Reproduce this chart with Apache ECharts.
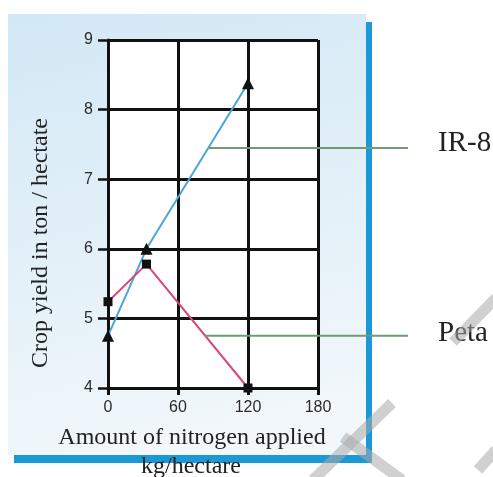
<!DOCTYPE html>
<html>
<head>
<meta charset="utf-8">
<style>
  html, body { margin: 0; padding: 0; background: #fff; }
  #chart { width: 493px; height: 477px; }
</style>
<script src="https://cdn.jsdelivr.net/npm/echarts@6/dist/echarts.min.js"></script>
</head>
<body>
<div id="chart"></div>
<script>
// nitrogen applied (kg/hectare) vs crop yield (ton/hectare)
const xTicks = [0, 60, 120, 180]
const irNitrogen = [0, 33, 120]
const irYield = [4.75, 6.0, 8.38]
const petaNitrogen = [0, 33, 120]
const petaYield = [5.24, 5.78, 4.0]

// where the callout lines touch each series
const irCallout = [86, 7.45]
const petaCallout = [83, 4.75]

const serif = 'Liberation Serif'
const sans = 'Liberation Sans'

const chart = echarts.init(document.getElementById('chart'))

const option = {
  animation: false,
  grid: {
    left: 108,
    top: 40,
    width: 210,
    height: 348,
    show: true,
    backgroundColor: '#ffffff',
    borderWidth: 0
  },
  xAxis: {
    type: 'value',
    min: 0,
    max: 180,
    interval: 60,
    axisLine: { show: true, lineStyle: { color: '#111', width: 3 } },
    axisTick: { show: true, length: 7, lineStyle: { color: '#111', width: 3 } },
    splitLine: { show: true, lineStyle: { color: '#111', width: 3 } },
    axisLabel: {
      margin: 12,
      fontFamily: sans,
      fontSize: 16,
      color: '#2a2a2a',
      formatter: v => xTicks.includes(v) ? String(v) : ''
    }
  },
  yAxis: {
    type: 'value',
    min: 4,
    max: 9,
    interval: 1,
    axisLine: { show: true, lineStyle: { color: '#111', width: 3 } },
    axisTick: { show: true, length: 10, lineStyle: { color: '#111', width: 2.5 } },
    splitLine: { show: true, lineStyle: { color: '#111', width: 3 } },
    axisLabel: {
      margin: 15,
      fontFamily: sans,
      fontSize: 16,
      color: '#2a2a2a'
    }
  },
  series: [
    {
      name: 'IR-8',
      type: 'line',
      clip: false,
      data: irNitrogen.map((x, i) => [x, irYield[i]]),
      symbol: 'triangle',
      symbolSize: 12,
      itemStyle: { color: '#111' },
      lineStyle: { color: '#4aa6d8', width: 2 },
      z: 3
    },
    {
      name: 'Peta',
      type: 'line',
      clip: false,
      data: petaNitrogen.map((x, i) => [x, petaYield[i]]),
      symbol: 'rect',
      symbolSize: 9,
      itemStyle: { color: '#111' },
      lineStyle: { color: '#d9487c', width: 2 },
      z: 3
    }
  ]
}

chart.setOption(option)

// frame, titles, callouts and watermark
const irStart = chart.convertToPixel({ gridIndex: 0 }, irCallout)
const petaStart = chart.convertToPixel({ gridIndex: 0 }, petaCallout)

const watermark = [
  [[313, 480], [392, 403]],
  [[343, 437], [402, 480]],
  [[453, 342], [496, 298]],
  [[478, 470], [496, 450]]
]

chart.setOption({
  graphic: [
    {
      type: 'rect',
      z: -10,
      silent: true,
      shape: { x: 8, y: 14, width: 358, height: 441 },
      style: {
        fill: new echarts.graphic.LinearGradient(0, 0, 0.3, 1, [
          { offset: 0, color: '#d2e8f5' },
          { offset: 1, color: '#f1f7fb' }
        ])
      }
    },
    {
      type: 'rect',
      z: -9,
      silent: true,
      shape: { x: 366, y: 22, width: 6, height: 441 },
      style: { fill: '#1b99d6' }
    },
    {
      type: 'rect',
      z: -9,
      silent: true,
      shape: { x: 14, y: 455, width: 358, height: 8 },
      style: { fill: '#1b99d6' }
    },
    {
      type: 'text',
      silent: true,
      x: 41,
      y: 243,
      rotation: Math.PI / 2,
      style: {
        text: 'Crop yield in ton / hectate',
        font: '24px ' + serif,
        fill: '#222',
        align: 'center',
        verticalAlign: 'middle'
      }
    },
    {
      type: 'text',
      silent: true,
      x: 192,
      y: 438,
      style: {
        text: 'Amount of nitrogen applied',
        font: '24px ' + serif,
        fill: '#222',
        align: 'center',
        verticalAlign: 'middle'
      }
    },
    {
      type: 'text',
      silent: true,
      z: 10,
      x: 191,
      y: 467,
      style: {
        text: 'kg/hectare',
        font: '24px ' + serif,
        fill: '#222',
        align: 'center',
        verticalAlign: 'middle'
      }
    },
    {
      type: 'line',
      silent: true,
      z: 5,
      shape: { x1: irStart[0], y1: irStart[1], x2: 408, y2: irStart[1] },
      style: { stroke: '#6f9a74', lineWidth: 2 }
    },
    {
      type: 'line',
      silent: true,
      z: 5,
      shape: { x1: petaStart[0], y1: petaStart[1], x2: 408, y2: petaStart[1] },
      style: { stroke: '#6f9a74', lineWidth: 2 }
    },
    {
      type: 'text',
      silent: true,
      x: 438,
      y: irStart[1] - 4,
      style: {
        text: 'IR-8',
        font: '29px ' + serif,
        fill: '#222',
        align: 'left',
        verticalAlign: 'middle'
      }
    },
    {
      type: 'text',
      silent: true,
      x: 438,
      y: petaStart[1] - 2,
      style: {
        text: 'Peta',
        font: '29px ' + serif,
        fill: '#222',
        align: 'left',
        verticalAlign: 'middle'
      }
    },
    ...watermark.map(seg => ({
      type: 'line',
      silent: true,
      z: 20,
      shape: { x1: seg[0][0], y1: seg[0][1], x2: seg[1][0], y2: seg[1][1] },
      style: { stroke: 'rgba(170,170,170,0.55)', lineWidth: 11 }
    }))
  ]
})

window.addEventListener('resize', () => chart.resize())
</script>
</body>
</html>
